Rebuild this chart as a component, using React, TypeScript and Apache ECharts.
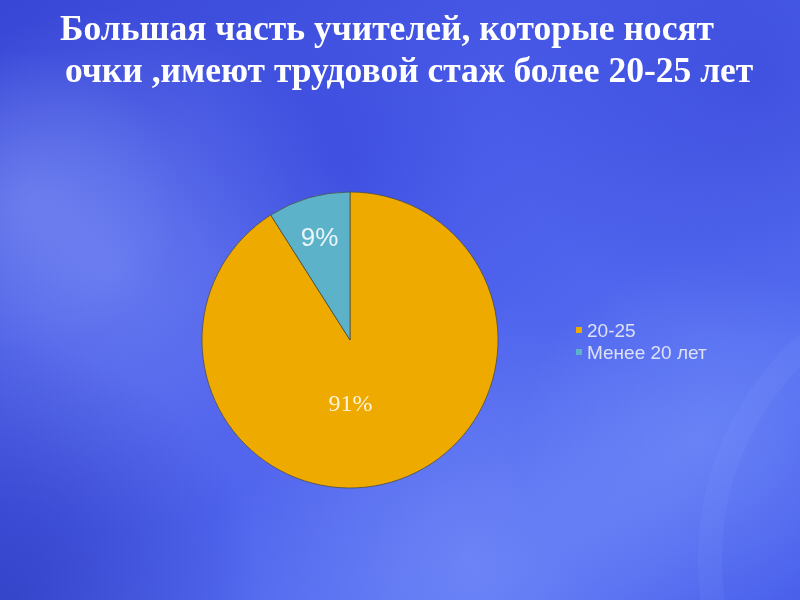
import React, { useEffect, useRef } from "react";
import * as echarts from "echarts";

const categories = ["20-25", "Менее 20 лет"];
const values = [91, 9];
const sliceColors = ["#EFAA00", "#5CB2C9"];
const titleLines = ["Большая часть учителей, которые носят", "очки ,имеют трудовой стаж более 20-25 лет"];

function blob(cx: number, cy: number, r: number, color: string, alpha: number) {
  return {
    type: "circle",
    z: -9,
    silent: true,
    shape: { cx, cy, r },
    style: {
      fill: new echarts.graphic.RadialGradient(0.5, 0.5, 0.5, [
        { offset: 0, color: `rgba(${color},${alpha})` },
        { offset: 1, color: `rgba(${color},0)` },
      ]),
    },
  };
}

export default function App() {
  const ref = useRef<HTMLDivElement>(null);
  useEffect(() => {
    if (!ref.current) return;
    const chart = echarts.init(ref.current, null, { renderer: "svg" });
    const labelOffsets = [[-21, -11], [-9, -29]];
    const labelFonts = [
      { fontFamily: "Liberation Serif", fontSize: 24, color: "#FFF4DA" },
      { fontFamily: "Liberation Sans", fontSize: 26, color: "#EAF6FA" },
    ];
    chart.setOption({
      animation: false,
      graphic: [
        {
          type: "rect",
          z: -10,
          silent: true,
          shape: { x: 0, y: 0, width: 800, height: 600 },
          style: {
            fill: new echarts.graphic.LinearGradient(0, 0, 1, 1, [
              { offset: 0, color: "#3947D6" },
              { offset: 0.45, color: "#4A5DEA" },
              { offset: 0.8, color: "#5670F2" },
              { offset: 1, color: "#4A60EC" },
            ]),
          },
        },
        blob(110, 270, 260, "150,170,255", 0.4),
        blob(30, 200, 150, "160,180,255", 0.3),
        blob(470, 560, 260, "150,170,255", 0.35),
        blob(700, 440, 180, "150,175,255", 0.3),
        blob(0, 600, 260, "25,35,160", 0.45),
        blob(760, 80, 260, "40,50,200", 0.35),
        blob(330, 170, 150, "40,55,210", 0.25),
        {
          type: "circle",
          z: -9,
          silent: true,
          shape: { cx: 1000, cy: 560, r: 290 },
          style: { fill: "none", stroke: "rgba(150,170,255,0.1)", lineWidth: 24 },
        },
        {
          type: "text",
          x: 60,
          y: 11,
          scaleX: 1.015,
          style: {
            text: titleLines[0],
            fill: "#FFFFFF",
            font: "bold 35px 'Liberation Serif'",
            verticalAlign: "top",
            align: "left",
          },
        },
        {
          type: "text",
          x: 65,
          y: 53,
          scaleX: 1.015,
          style: {
            text: titleLines[1],
            fill: "#FFFFFF",
            font: "bold 35px 'Liberation Serif'",
            verticalAlign: "top",
            align: "left",
          },
        },
      ],
      legend: {
        orient: "vertical",
        left: 576,
        top: 320,
        padding: 0,
        icon: "rect",
        itemWidth: 6,
        itemHeight: 6,
        itemGap: 2,
        itemStyle: { borderWidth: 0 },
        data: categories,
        textStyle: { fontFamily: "Liberation Sans", fontSize: 19, color: "#DEE1F4", lineHeight: 20 },
      },
      series: [
        {
          type: "pie",
          center: [350, 340],
          radius: 148,
          startAngle: 90,
          clockwise: true,
          label: {
            show: true,
            position: "inside",
            formatter: (p: any) => `${p.value}%`,
          },
          labelLine: { show: false },
          itemStyle: { borderColor: "rgba(70,70,60,0.7)", borderWidth: 1 },
          emphasis: { disabled: true },
          data: categories.map((name, i) => ({
            name,
            value: values[i],
            itemStyle: { color: sliceColors[i] },
            label: { offset: labelOffsets[i], ...labelFonts[i] },
          })),
        },
      ],
    });
    return () => chart.dispose();
  }, []);
  return <div ref={ref} style={{ position: "fixed", left: 0, top: 0, width: 800, height: 600 }} />;
}
